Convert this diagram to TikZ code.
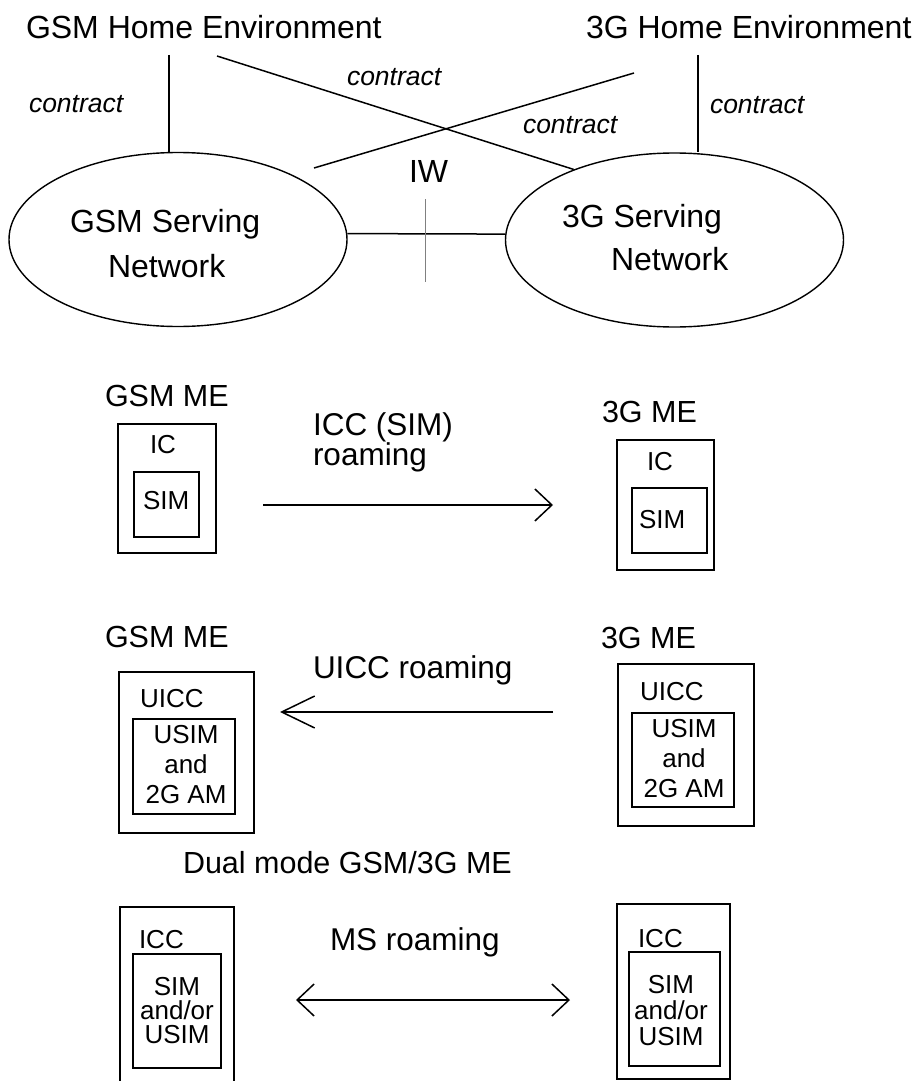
\documentclass[tikz,border=0pt]{standalone}
\usepackage{fontspec}
\setmainfont{Liberation Sans}
\usetikzlibrary{shapes.geometric,arrows.meta}
\begin{document}
\begin{tikzpicture}[x=1pt,y=-1pt,
  txt/.style={inner sep=0pt, outer sep=0pt, anchor=base west},
  big/.style={txt, font=\fontsize{32}{38}\selectfont},
  ctr/.style={txt, font=\fontsize{26.5}{32}\selectfont\itshape},
  lab/.style={txt, font=\fontsize{30.5}{36}\selectfont},
  arl/.style={txt, font=\fontsize{31.5}{36}\selectfont},
  sm/.style={txt, font=\fontsize{26}{30}\selectfont},
  smc/.style={inner sep=0pt, outer sep=0pt, anchor=base, font=\fontsize{26}{30}\selectfont},
  net/.style={draw, ellipse, line width=1.4pt, minimum width=338pt, minimum height=174pt, inner sep=0pt},
  obox/.style={draw, line width=2pt, anchor=north west, inner sep=0pt, outer sep=0pt},
  conn/.style={line width=1.5pt},
  arr/.style={line width=1.5pt, -{Straight Barb[length=17pt,width=32pt]}},
  arrlong/.style={line width=1.5pt, -{Straight Barb[length=33pt,width=32pt]}},
  arrboth/.style={line width=1.5pt, {Straight Barb[length=17pt,width=32pt]}-{Straight Barb[length=17pt,width=32pt]}}
]
\useasboundingbox (0,0) rectangle (914,1081);

% ---- top part ----
\node[big] (ghe) at (26,39) {GSM Home Environment};
\node[big] (the) at (586,39) {3G Home Environment};
\node[ctr] (c1) at (29,112) {contract};
\node[ctr] (c2) at (347,85) {contract};
\node[ctr] (c3) at (523,133) {contract};
\node[ctr] (c4) at (710,113) {contract};
\node[big] (iw) at (409,182) {IW};

\node[net] (gsn) at (178,239.5) {};
\node[net] (tsn) at (674.5,240) {};
\node[big] (gsn1) at (70,232) {GSM Serving};
\node[big] (gsn2) at (108,277) {Network};
\node[big] (tsn1) at (562,227) {3G Serving};
\node[big] (tsn2) at (611,270) {Network};

\coordinate (l1) at (169,55);
\coordinate (l2) at (698,55);
\coordinate (d1) at (217,56);
\coordinate (d2a) at (634,73);
\coordinate (d2b) at (314,168);
\coordinate (iw1) at (425.5,199);
\coordinate (iw2) at (425.5,282);

\draw[conn] (l1) -- (l1 |- gsn.north);
\draw[conn] (l2) -- (l2 |- tsn.north);
\draw[conn] (d1) -- (tsn.145);
\draw[conn] (d2a) -- (d2b);
\draw[conn] (gsn.2) -- (tsn.178);
\draw[black!50, line width=1.2pt] (iw1) -- (iw2);

% ---- row 1 ----
\node[lab] (gme1) at (105,406) {GSM ME};
\node[obox, minimum width=98pt, minimum height=129pt] (a1) at (118,424) {};
\node[sm] (a1t) at (150,453) {IC};
\node[obox, minimum width=65pt, minimum height=65pt] (a1i) at (134,472) {};
\node[sm] (a1s) at (143,509) {SIM};

\node[lab] (tme1) at (602,422) {3G ME};
\node[obox, minimum width=97pt, minimum height=130pt] (b1) at (617,440) {};
\node[sm] (b1t) at (647,470) {IC};
\node[obox, minimum width=75pt, minimum height=65pt] (b1i) at (632,488) {};
\node[sm] (b1s) at (639,528) {SIM};

\node[arl] (r1a) at (313,435) {ICC (SIM)};
\node[arl] (r1b) at (313,465) {roaming};
\coordinate (r1s) at (263,505);
\coordinate (r1e) at (553,505);
\draw[arr] (r1s) -- (r1e);

% ---- row 2 ----
\node[lab] (gme2) at (105,647) {GSM ME};
\node[obox, minimum width=135pt, minimum height=161pt] (a2) at (119,672) {};
\node[sm] (a2t) at (140,707) {UICC};
\node[obox, minimum width=102pt, minimum height=95pt] (a2i) at (133,719) {};
\node[smc] (a2l1) at (186,743) {USIM};
\node[smc] (a2l2) at (186,773) {and};
\node[smc] (a2l3) at (186,803) {2G AM};

\node[lab] (tme2) at (601,648) {3G ME};
\node[obox, minimum width=136pt, minimum height=162pt] (b2) at (618,664) {};
\node[sm] (b2t) at (640,700) {UICC};
\node[obox, minimum width=102pt, minimum height=94pt] (b2i) at (632,713) {};
\node[smc] (b2l1) at (684,737) {USIM};
\node[smc] (b2l2) at (684,767) {and};
\node[smc] (b2l3) at (684,797) {2G AM};

\node[arl] (r2a) at (313,678) {UICC roaming};
\coordinate (r2s) at (553,712);
\coordinate (r2e) at (280,712);
\draw[arrlong] (r2s) -- (r2e);

% ---- row 3 ----
\node[lab] (dual) at (183,873) {Dual mode GSM/3G ME};
\node[obox, minimum width=114pt, minimum height=200pt] (c1b) at (120,907) {};
\node[sm] (c1t) at (139,948) {ICC};
\node[obox, minimum width=88pt, minimum height=114pt] (c1i) at (133,954) {};
\node[smc] (c1l1) at (177,995) {SIM};
\node[smc] (c1l2) at (177,1019) {and/or};
\node[smc] (c1l3) at (177,1043) {USIM};

\node[obox, minimum width=113pt, minimum height=175pt] (c2b) at (617,904) {};
\node[sm] (c2t) at (638,947) {ICC};
\node[obox, minimum width=91pt, minimum height=114pt] (c2i) at (629,952) {};
\node[smc] (c2l1) at (671,993) {SIM};
\node[smc] (c2l2) at (671,1019) {and/or};
\node[smc] (c2l3) at (671,1045) {USIM};

\node[arl] (r3a) at (330,950) {MS roaming};
\coordinate (r3s) at (296,1000);
\coordinate (r3e) at (570,1000);
\draw[arrboth] (r3s) -- (r3e);
\end{tikzpicture}
\end{document}
